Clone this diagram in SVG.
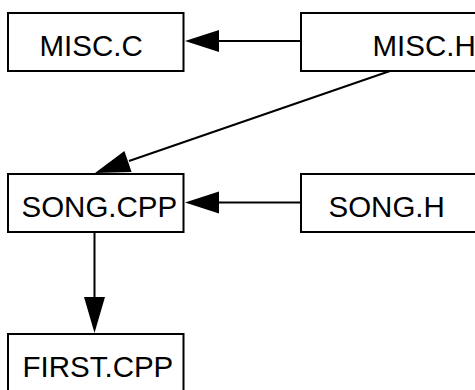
<svg xmlns="http://www.w3.org/2000/svg" width="475" height="390" viewBox="0 0 475 390">
<style>
.box{fill:#fff;stroke:#000;stroke-width:2}
.lbl{font-family:"Liberation Sans",Arial,sans-serif;font-size:29.5px;fill:#000}
.ln{stroke:#000;stroke-width:2;fill:none}
.ah{fill:#000;stroke:none}
</style>
<rect width="475" height="390" fill="#fff"/>
<g id="misc_c"><rect class="box" x="8" y="13" width="175.5" height="58"/><text class="lbl" x="39.5" y="56">MISC.C</text></g>
<g id="misc_h"><rect class="box" x="301" y="13" width="176" height="58"/><text class="lbl" x="372.5" y="56">MISC.H</text></g>
<g id="song_cpp"><rect class="box" x="8" y="174" width="175.5" height="58"/><text class="lbl" x="21.5" y="217">SONG.CPP</text></g>
<g id="song_h"><rect class="box" x="301" y="174" width="176" height="58"/><text class="lbl" x="328.5" y="217">SONG.H</text></g>
<g id="first_cpp"><rect class="box" x="8" y="334" width="175.5" height="60"/><text class="lbl" x="22.5" y="377">FIRST.CPP</text></g>
<g id="connectors">
<line class="ln" x1="301" y1="41" x2="218" y2="41"/>
<polygon class="ah" points="185,41 219,30 219,52"/>
<line class="ln" x1="390" y1="71" x2="129" y2="161"/>
<polygon class="ah" points="95,173 131.6,172 124.4,151"/>
<line class="ln" x1="301" y1="202.5" x2="218" y2="202.5"/>
<polygon class="ah" points="185,202.5 219,191.5 219,213.5"/>
<line class="ln" x1="94.5" y1="232" x2="94.5" y2="298"/>
<polygon class="ah" points="94.5,333 84,297 105,297"/>
</g>
</svg>
